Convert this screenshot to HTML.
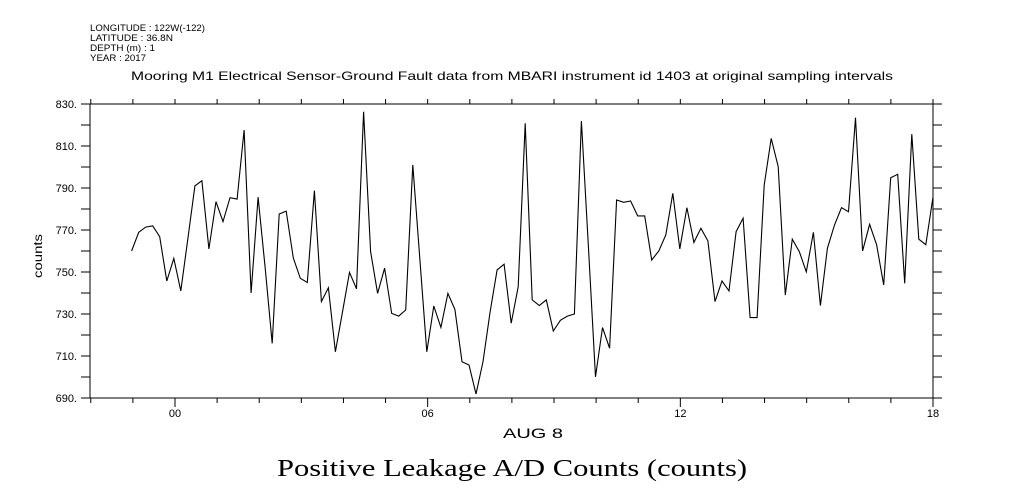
<!DOCTYPE html>
<html><head><meta charset="utf-8"><style>
html,body{margin:0;padding:0;background:#fff;}
svg{display:block;font-family:"Liberation Sans",sans-serif;}
</style></head><body>
<svg id="chart" width="1009" height="504" viewBox="0 0 1009 504" xmlns="http://www.w3.org/2000/svg">
<g font-size="9" fill="#000">
<text x="90" y="31" textLength="115" lengthAdjust="spacingAndGlyphs">LONGITUDE : 122W(-122)</text>
<text x="90" y="41" textLength="83" lengthAdjust="spacingAndGlyphs">LATITUDE : 36.8N</text>
<text x="90" y="51" textLength="65" lengthAdjust="spacingAndGlyphs">DEPTH (m) : 1</text>
<text x="90" y="61" textLength="56" lengthAdjust="spacingAndGlyphs">YEAR : 2017</text>
</g>
<text x="131" y="80" textLength="762" lengthAdjust="spacingAndGlyphs" font-size="12">Mooring M1 Electrical Sensor-Ground Fault data from MBARI instrument id 1403 at original sampling intervals</text>
<text transform="translate(42,256) rotate(-90)" text-anchor="middle" font-size="12" textLength="44" lengthAdjust="spacingAndGlyphs">counts</text>
<text x="503" y="438" textLength="60" lengthAdjust="spacingAndGlyphs" font-size="14">AUG  8</text>
<text x="277" y="476" textLength="470" lengthAdjust="spacingAndGlyphs" font-size="24" font-family="'Liberation Serif',serif">Positive Leakage A/D Counts (counts)</text>
<g id="axes"></g>
<g id="series"></g>
</svg>
<script>
const yTickLabels=[830,810,790,770,750,730,710,690];
const xTickLabels=["00","06","12","18"];
const xTickHours=[0,6,12,18];
const values=[760,768.9,771.4,772,766.8,745.7,756.5,741,766,791,793.5,761,783.5,774,785.4,784.7,817.6,740,785.6,751.8,716,777.6,779,756.7,747,745,788.7,735.9,742.5,712,731,749.8,742,826.3,759.7,739.8,
751.8,730.3,729,731.9,801,756.5,712,733.8,723.6,739.8,732.2,707.3,705.7,691.9,707.3,731,751,753.7,725.6,743,820.8,736.7,734,736.7,721.9,727,729,730,821.9,761.3,700.1,723.5,713.7,784.3,783.2,783.8,776.7,776.7,755.7,760,767.6,
787.5,761,780.6,764.1,770.8,764.8,735.9,745.7,741,769.2,775.6,728.3,728.3,791.4,813.6,800.2,739,765.6,759.7,750.1,768.9,734,761.3,772.4,780.6,778.7,823.5,760,772.7,763,743.8,794.9,796.5,744.6,815.6,765.6,763,785.4];
const startHour=-1.03, stepHour=0.1669;
const L=90,R=933,T=104,B=398;
const xs=h=>175+(h)*(933-175)/18;
const ys=v=>T+(830-v)*(B-T)/140;
const NS="http://www.w3.org/2000/svg";
function mk(tag,attrs,parent){const e=document.createElementNS(NS,tag);for(const k in attrs)e.setAttribute(k,attrs[k]);parent.appendChild(e);return e;}
const ax=document.getElementById('axes');
const fr=mk('rect',{x:L,y:T,width:R-L,height:B-T,fill:'none',stroke:'#000','stroke-width':1},ax);


for(let v=690;v<=830;v+=10){
  const y=ys(v);
  const lt=mk('line',{x1:L-9,x2:L,y1:y,y2:y,stroke:'#000'},ax);
  
  
  const rt=mk('line',{x1:R,x2:R+9,y1:y,y2:y,stroke:'#000'},ax);
  
  
}
yTickLabels.forEach(v=>{
  const t=mk('text',{x:L-13,y:ys(v)+4,'text-anchor':'end','font-size':11},ax);
  t.textContent=v+'.';
  
  
});
for(let h=-2;h<=18;h++){
  const x=xs(h); if(x<L-1) continue;
  const major=h%6===0;
  const a=mk('line',{x1:x,x2:x,y1:T-5,y2:T,stroke:'#000'},ax);
  
  
  const b=mk('line',{x1:x,x2:x,y1:B,y2:B+(major?9:5),stroke:'#000'},ax);
  
  
}
xTickHours.forEach((h,i)=>{
  const t=mk('text',{x:xs(h),y:B+19,'text-anchor':'middle','font-size':11},ax);
  t.textContent=xTickLabels[i];
  
  
});
const pts=values.map((v,k)=>xs(startHour+k*stepHour).toFixed(1)+','+ys(v).toFixed(1)).join(' ');
const line=mk('polyline',{points:pts,fill:'none',stroke:'#000','stroke-width':1.1},document.getElementById('series'));


</script>
</body></html>
